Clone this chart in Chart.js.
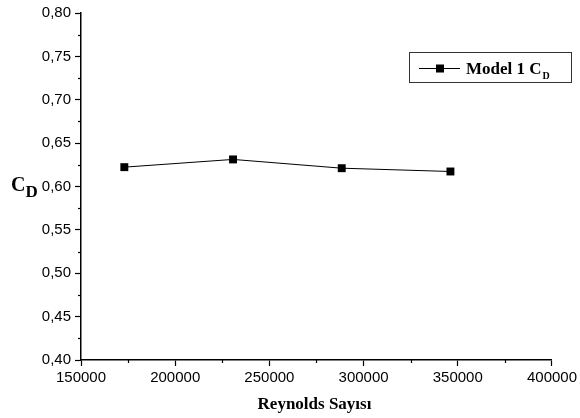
<!DOCTYPE html>
<html>
<head>
<meta charset="utf-8">
<script src="https://cdn.jsdelivr.net/npm/chart.js@4.4.1/dist/chart.umd.min.js"></script>
<style>
    html, body { margin: 0; padding: 0; background: #fff; }
    #wrap { width: 580px; height: 418px; position: relative; }
</style>
</head>
<body>
<div id="wrap"><canvas id="cdChart"></canvas></div>
<script>
// Veriler
const reynolds = [173000, 230700, 288400, 346100];
const cdValues = [0.6223, 0.6312, 0.6211, 0.6173];
const xTicks = [150000, 200000, 250000, 300000, 350000, 400000];
const yTicks = [0.40, 0.45, 0.50, 0.55, 0.60, 0.65, 0.70, 0.75, 0.80];
const seriesLabel = 'Model 1 C';
const seriesSub = 'D';
const xTitle = 'Reynolds Sayısı';

const serif = "'Liberation Serif', 'Times New Roman', serif";

// Ara çentikler + eksen başlıkları + lejant
const extrasPlugin = {
    id: 'extras',
    afterDraw(chart) {
        const ctx = chart.ctx;
        const xs = chart.scales.x, ys = chart.scales.y;
        const area = chart.chartArea;
        ctx.save();
        ctx.strokeStyle = '#000';
        ctx.lineWidth = 1.2;
        // ara çentikler
        for (let i = 0; i < yTicks.length - 1; i++) {
            const v = (yTicks[i] + yTicks[i + 1]) / 2;
            const py = Math.round(ys.getPixelForValue(v)) + 0.5;
            ctx.beginPath();
            ctx.moveTo(area.left - 3, py);
            ctx.lineTo(area.left, py);
            ctx.stroke();
        }
        for (let i = 0; i < xTicks.length - 1; i++) {
            const v = (xTicks[i] + xTicks[i + 1]) / 2;
            const px = Math.round(xs.getPixelForValue(v)) + 0.5;
            ctx.beginPath();
            ctx.moveTo(px, area.bottom);
            ctx.lineTo(px, area.bottom + 3);
            ctx.stroke();
        }

        ctx.fillStyle = '#000';
        ctx.textBaseline = 'alphabetic';
        // y ekseni başlığı C_D
        ctx.font = 'bold 20px ' + serif;
        ctx.textAlign = 'left';
        ctx.fillText('C', 11, 191);
        const cw = ctx.measureText('C').width;
        ctx.font = 'bold 17px ' + serif;
        ctx.fillText('D', 11 + cw, 197);

        // x ekseni başlığı
        ctx.font = 'bold 17px ' + serif;
        ctx.textAlign = 'center';
        ctx.fillText(xTitle, (area.left + area.right) / 2 - 2, 409);

        // lejant kutusu
        ctx.lineWidth = 1;
        ctx.strokeStyle = '#333';
        ctx.strokeRect(409.5, 52.5, 162, 30);
        ctx.strokeStyle = '#000';
        ctx.lineWidth = 1;
        ctx.beginPath();
        ctx.moveTo(419, 68.5);
        ctx.lineTo(460, 68.5);
        ctx.stroke();
        ctx.fillRect(436, 64.5, 8, 8);
        ctx.textAlign = 'left';
        ctx.font = 'bold 17px ' + serif;
        ctx.fillText(seriesLabel, 466, 74);
        const w = ctx.measureText(seriesLabel).width;
        ctx.font = 'bold 10px ' + serif;
        ctx.fillText(seriesSub, 466 + w + 1, 79);
        ctx.restore();
    }
};

function drawChart() {
    const ctx = document.getElementById('cdChart').getContext('2d');
    const tickFont = { family: "'Liberation Sans', Arial, sans-serif", size: 15 };

    new Chart(ctx, {
        type: 'line',
        data: {
            datasets: [{
                label: seriesLabel + seriesSub,
                data: reynolds.map((r, i) => ({ x: r, y: cdValues[i] })),
                borderColor: '#000',
                backgroundColor: '#000',
                borderWidth: 1,
                pointStyle: 'rect',
                pointRadius: 5.6,
                pointBorderWidth: 0,
                tension: 0,
                fill: false
            }]
        },
        options: {
            responsive: true,
            maintainAspectRatio: false,
            animation: false,
            devicePixelRatio: 1,
            layout: { padding: { left: 0, top: 13, right: 27, bottom: 0 } },
            plugins: {
                legend: { display: false },
                tooltip: { enabled: false }
            },
            scales: {
                x: {
                    type: 'linear',
                    min: 150000,
                    max: 400000,
                    afterBuildTicks: scale => { scale.ticks = xTicks.map(v => ({ value: v })); },
                    afterFit: scale => { scale.height = 58; },
                    ticks: {
                        color: '#000',
                        font: tickFont,
                        padding: 3,
                        maxRotation: 0,
                        callback: value => String(value)
                    },
                    grid: {
                        drawOnChartArea: false,
                        tickLength: 6,
                        tickColor: '#000',
                        tickWidth: 1.2
                    },
                    border: { color: '#000', width: 1.5 }
                },
                y: {
                    min: 0.40,
                    max: 0.80,
                    afterBuildTicks: scale => { scale.ticks = yTicks.map(v => ({ value: v })); },
                    afterFit: scale => { scale.width = 81; },
                    ticks: {
                        color: '#000',
                        font: tickFont,
                        padding: 4,
                        callback: value => value.toFixed(2).replace('.', ',')
                    },
                    grid: {
                        drawOnChartArea: false,
                        tickLength: 6,
                        tickColor: '#000',
                        tickWidth: 1.2
                    },
                    border: { color: '#000', width: 1.5 }
                }
            }
        },
        plugins: [extrasPlugin]
    });
}

document.addEventListener('DOMContentLoaded', drawChart);
</script>
</body>
</html>
